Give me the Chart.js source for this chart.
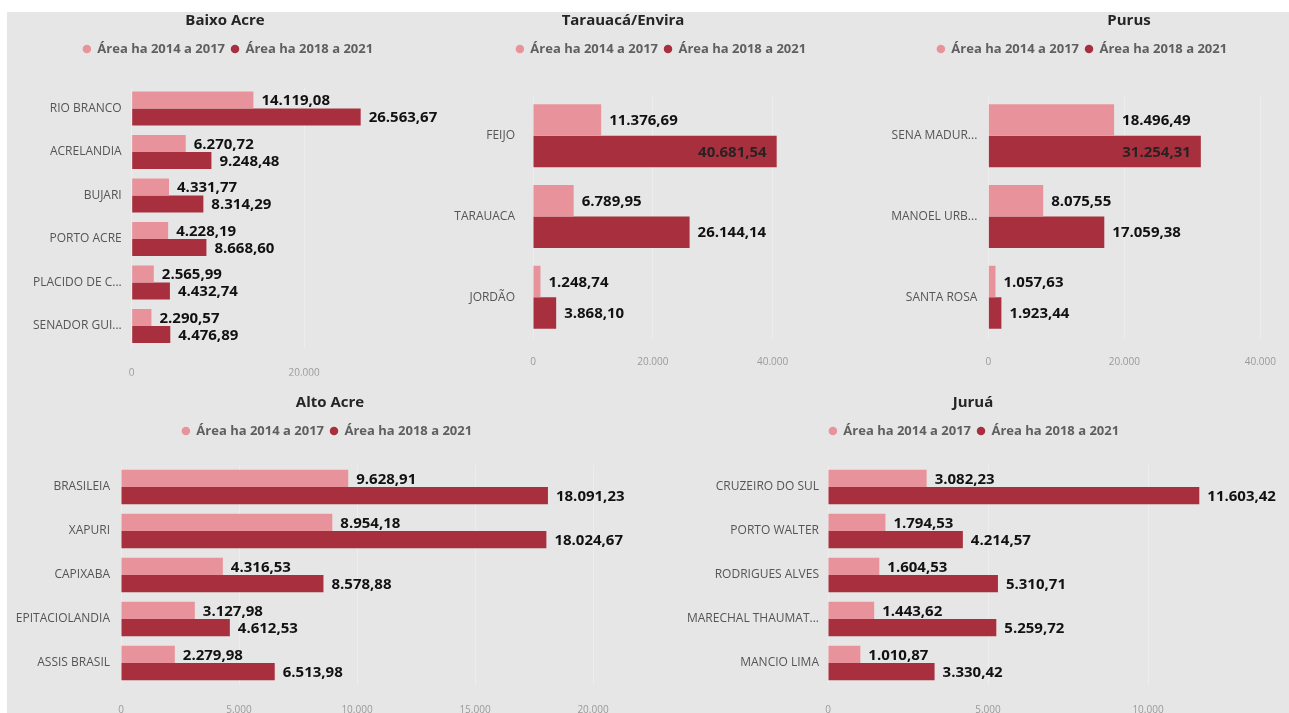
<!DOCTYPE html>
<html><head><meta charset="utf-8">
<script src="https://cdn.jsdelivr.net/npm/chart.js@4.4.1/dist/chart.umd.min.js"></script>
<style>
html,body{margin:0;padding:0;background:#fff;width:1289px;height:713px;overflow:hidden;}
#bg{position:absolute;left:7px;top:12px;width:1282px;height:701px;background:#e6e6e6;}
canvas{position:absolute;}
</style></head><body><div id="bg"></div>
<canvas id="c1"></canvas><canvas id="c2"></canvas><canvas id="c3"></canvas><canvas id="c4"></canvas><canvas id="c5"></canvas>
<script>
const seriesNames = ['Área ha 2014 a 2017', 'Área ha 2018 a 2021'];

const baixoAcreCategories = ['RIO BRANCO','ACRELANDIA','BUJARI','PORTO ACRE','PLACIDO DE C...','SENADOR GUI...'];
const baixoAcre2014 = [14119.08, 6270.72, 4331.77, 4228.19, 2565.99, 2290.57];
const baixoAcre2018 = [26563.67, 9248.48, 8314.29, 8668.60, 4432.74, 4476.89];
const baixoAcreTicks = [0, 20000];

const tarauacaCategories = ['FEIJO','TARAUACA','JORDÃO'];
const tarauaca2014 = [11376.69, 6789.95, 1248.74];
const tarauaca2018 = [40681.54, 26144.14, 3868.10];
const tarauacaTicks = [0, 20000, 40000];

const purusCategories = ['SENA MADUR...','MANOEL URB...','SANTA ROSA'];
const purus2014 = [18496.49, 8075.55, 1057.63];
const purus2018 = [31254.31, 17059.38, 1923.44];
const purusTicks = [0, 20000, 40000];

const altoAcreCategories = ['BRASILEIA','XAPURI','CAPIXABA','EPITACIOLANDIA','ASSIS BRASIL'];
const altoAcre2014 = [9628.91, 8954.18, 4316.53, 3127.98, 2279.98];
const altoAcre2018 = [18091.23, 18024.67, 8578.88, 4612.53, 6513.98];
const altoAcreTicks = [0, 5000, 10000, 15000, 20000];

const juruaCategories = ['CRUZEIRO DO SUL','PORTO WALTER','RODRIGUES ALVES','MARECHAL THAUMAT...','MANCIO LIMA'];
const jurua2014 = [3082.23, 1794.53, 1604.53, 1443.62, 1010.87];
const jurua2018 = [11603.42, 4214.57, 5310.71, 5259.72, 3330.42];
const juruaTicks = [0, 5000, 10000];

const COLOR_A = '#e8939b';
const COLOR_B = '#a8303e';
const FONT = "'Open Sans', 'Noto Sans', sans-serif";
const AXIS_H = 28;
const LEGEND_FS = 13;

function fmtBR(v, dec) {
  const parts = v.toFixed(dec).split('.');
  parts[0] = parts[0].replace(/\B(?=(\d{3})+(?!\d))/g, '.');
  return dec ? parts[0] + ',' + parts[1] : parts[0];
}

const panelPlugin = {
  id: 'panelLayout',
  beforeInit(chart, args, opts) {
    const legend = chart.legend;
    const orig = legend.fit;
    legend.fit = function () { orig.call(this); this.height = opts.legendH; };
  },
  afterLayout(chart, args, opts) {
    const t = chart.titleBlock, l = chart.legend;
    let dx = opts.titleX - (t.left + t.right) / 2; t.left += dx; t.right += dx;
    dx = opts.legendX - (l.left + l.right) / 2; l.left += dx; l.right += dx;
  },
  afterDatasetsDraw(chart) {
    const ctx = chart.ctx, area = chart.chartArea;
    ctx.save();
    ctx.font = "bold 15px " + FONT;
    ctx.textBaseline = 'middle';
    chart.data.datasets.forEach((ds, di) => {
      const meta = chart.getDatasetMeta(di);
      meta.data.forEach((el, i) => {
        const txt = fmtBR(ds.data[i], 2);
        const w = ctx.measureText(txt).width;
        if (el.x + 8 + w <= area.right) {
          ctx.textAlign = 'left'; ctx.fillStyle = '#111';
          ctx.fillText(txt, el.x + 8, el.y + 1);
        } else {
          ctx.textAlign = 'right'; ctx.fillStyle = '#2a2222';
          ctx.fillText(txt, el.x - 10, el.y + 1);
        }
      });
    });
    ctx.restore();
  }
};

function makeChart(g, title, cats, a, b, tickVals) {
  const cv = document.getElementById(g.id);
  cv.width = g.width; cv.height = g.height;
  cv.style.left = g.left + 'px'; cv.style.top = g.top + 'px';
  const titlePadTop = g.titleY - g.top - 9;
  const legendTop = g.legendY - 6 - LEGEND_FS / 2;
  const titlePadBottom = legendTop - g.top - titlePadTop - 18;
  const chartRight = g.zeroX + g.max * g.k / 1000;
  new Chart(cv, {
    type: 'bar',
    data: {
      labels: cats,
      datasets: [
        { label: seriesNames[0], data: a, backgroundColor: COLOR_A, borderWidth: 0, categoryPercentage: 0.78, barPercentage: 1.0 },
        { label: seriesNames[1], data: b, backgroundColor: COLOR_B, borderWidth: 0, categoryPercentage: 0.78, barPercentage: 1.0 }
      ]
    },
    options: {
      indexAxis: 'y',
      responsive: false,
      animation: false,
      layout: { padding: { top: 0, left: 0, right: g.left + g.width - chartRight, bottom: (g.top + g.height) - g.chartBottom - AXIS_H } },
      plugins: {
        title: { display: true, text: title, color: '#252525', font: { family: FONT, size: 15, weight: 'bold', lineHeight: 1.2 },
                 padding: { top: titlePadTop, bottom: titlePadBottom } },
        legend: { display: true, position: 'top',
                  labels: { usePointStyle: true, pointStyle: 'circle', boxWidth: 8, boxHeight: 6, padding: 6,
                            color: '#5f5f5f', font: { family: FONT, size: LEGEND_FS, weight: 'bold' } } },
        tooltip: { enabled: false },
        panelLayout: { legendH: g.chartTop - legendTop, titleX: g.titleX - g.left, legendX: g.legendX - g.left }
      },
      scales: {
        y: {
          grid: { display: false, drawTicks: false }, border: { display: false },
          ticks: { color: '#555555', padding: g.labelPad, font: { family: FONT, size: 12 } },
          afterFit: (s) => { s.width = g.zeroX - g.left; }
        },
        x: {
          min: 0, max: g.max,
          grid: { display: true, color: 'rgba(255,255,255,0.3)', drawTicks: false },
          border: { display: false },
          ticks: { color: '#9a9a9a', padding: 19, font: { family: FONT, size: 10 }, callback: (v) => fmtBR(v, 0) },
          afterBuildTicks: (s) => { s.ticks = tickVals.map(v => ({ value: v })); },
          afterFit: (s) => { s.height = AXIS_H; s.paddingLeft = 0; s.paddingRight = 0; }
        }
      }
    },
    plugins: [panelPlugin]
  });
}

makeChart({ id: 'c1', left: 7, top: 12, width: 463, height: 376, zeroX: 131.7, k: 8.62, max: 37000, chartTop: 86.75, chartBottom: 347.75,
            titleX: 225, titleY: 21, legendX: 228, legendY: 49, labelPad: 10 },
          'Baixo Acre', baixoAcreCategories, baixoAcre2014, baixoAcre2018, baixoAcreTicks);
makeChart({ id: 'c2', left: 450, top: 12, width: 410, height: 376, zeroX: 533, k: 5.99, max: 48000, chartTop: 95.5, chartBottom: 337.5,
            titleX: 623, titleY: 21, legendX: 661, legendY: 49, labelPad: 18 },
          'Tarauacá/Envira', tarauacaCategories, tarauaca2014, tarauaca2018, tarauacaTicks);
makeChart({ id: 'c3', left: 870, top: 12, width: 419, height: 376, zeroX: 988.3, k: 6.80, max: 40800, chartTop: 95.5, chartBottom: 337.5,
            titleX: 1129, titleY: 21, legendX: 1082, legendY: 49, labelPad: 11 },
          'Purus', purusCategories, purus2014, purus2018, purusTicks);
makeChart({ id: 'c4', left: 7, top: 384, width: 653, height: 329, zeroX: 121, k: 23.6, max: 22000, chartTop: 465, chartBottom: 685,
            titleX: 330, titleY: 403, legendX: 327, legendY: 431, labelPad: 11 },
          'Alto Acre', altoAcreCategories, altoAcre2014, altoAcre2018, altoAcreTicks);
makeChart({ id: 'c5', left: 660, top: 384, width: 629, height: 329, zeroX: 828, k: 32, max: 14200, chartTop: 465, chartBottom: 685,
            titleX: 973, titleY: 403, legendX: 974, legendY: 431, labelPad: 9 },
          'Juruá', juruaCategories, jurua2014, jurua2018, juruaTicks);
</script>
</body></html>
